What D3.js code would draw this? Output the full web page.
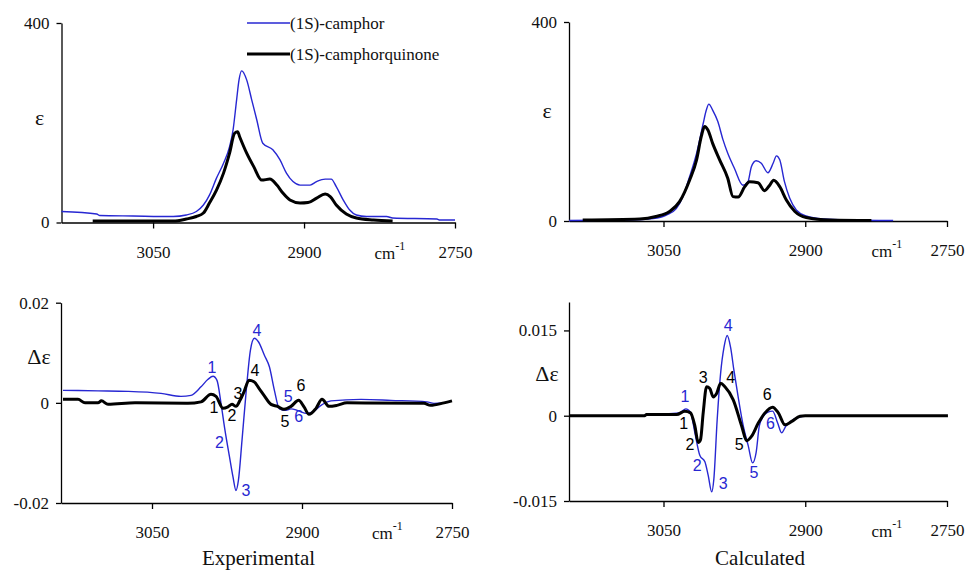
<!DOCTYPE html>
<meta charset="utf-8">
<style>
body { margin: 0; background: #fff; }
svg { display: block; }
</style>
<svg width="966" height="570"></svg>
<script src="https://d3js.org/d3.v7.min.js"></script>
<script>

// wavenumber (cm-1), epsilon / delta epsilon
var expAbsCamphor = [[3141,22],[3106,17],[3103,14],[3070,13],[3030,12],[3017,15],[3007,22],[3000,35],[2994,55],[2987,89],[2980,119],[2974,152],[2970.5,186],[2967,246],[2964.6,286],[2962,304],[2957,286],[2952,246],[2947,206],[2941,159],[2931,146],[2924,126],[2917.5,99],[2911,82],[2904,75],[2894,75],[2887.5,82],[2879,87],[2873,87],[2868,72],[2861,45],[2854.6,25],[2848,15],[2838,12],[2818,12],[2812,9],[2768,7],[2765,5],[2750,5]];
var expAbsQuinone = [[3110,3],[3030,3],[3017,7],[3007,12],[3000,19],[2994,39],[2987,65],[2980,99],[2974,139],[2969,179],[2966,182],[2964,172],[2957,139],[2950,112],[2942,85],[2934,87],[2927,75],[2921,59],[2914,45],[2904,39],[2896,40],[2887.5,49],[2879,57],[2874,52],[2868,35],[2858,17],[2848,9],[2831,5],[2812,3]];

var calcAbsCamphor = [[3150,1],[3086,2],[3061,5],[3047,12],[3036.5,25],[3029.5,49],[3022.4,89],[3015,136],[3008,196],[3004.7,223],[3002,235],[2998,223],[2992.5,200],[2987,163],[2982,136],[2975,106],[2966,72],[2960.6,79],[2957,109],[2952,121],[2946.5,116],[2939.5,97],[2934,116],[2930.5,131],[2927,123],[2922,79],[2916.5,46],[2909.5,22],[2899,10],[2881,4],[2856,2],[2807,1]];
var calcAbsQuinone = [[3135.5,2],[3075,4],[3058,9],[3043.6,19],[3033,39],[3022.4,82],[3015,123],[3010,170],[3006.5,190],[3003,183],[2998,156],[2990.6,123],[2982,86],[2976.5,49],[2971,48],[2964,69],[2959,79],[2950,77],[2943,61],[2937.6,72],[2933.4,82],[2927,69],[2920,42],[2911,19],[2899,7],[2874,2],[2830,1]];

var expCdCamphor = [[3139,0.0025],[3104,0.0024],[3074,0.0023],[3041,0.0019],[3021,0.0013],[3011,0.0015],[3001,0.0032],[2994,0.0047],[2989,0.0053],[2985,0.0045],[2981,-0.0001],[2977,-0.0055],[2972.5,-0.0108],[2969,-0.0148],[2966,-0.0175],[2963.6,-0.0155],[2960,-0.0075],[2956,0.0019],[2951.6,0.0105],[2947.6,0.0129],[2943.6,0.0122],[2937.6,0.0095],[2932.6,0.0072],[2927.6,0.0025],[2922.6,-0.0012],[2916,-0.0015],[2911,-0.0012],[2906,-0.0014],[2901,-0.0018],[2896,-0.0021],[2889,-0.0018],[2881,-0.0005],[2871,0.0004],[2841,0.0007],[2811,0.0005],[2775,0.0002],[2768,-0.0001],[2758,0]];
var expCdQuinone = [[3139,0.0007],[3124,0.0007],[3117,0],[3104,0],[3100.6,0.0004],[3094,-0.0003],[3067,0],[3014,-0.0001],[3001,0.0002],[2991,0.0017],[2986,0.0013],[2979,-0.0011],[2974,-0.0008],[2970,-0.0003],[2966,-0.0007],[2962,0.0005],[2958,0.0022],[2953,0.0045],[2948,0.0042],[2943,0.0029],[2938,0.0015],[2931,-0.0003],[2924.5,-0.0007],[2918,-0.0013],[2911,-0.0007],[2903.4,0.0005],[2898,-0.0008],[2893,-0.0023],[2886,-0.0011],[2880,0.0007],[2873,-0.0007],[2865,-0.0005],[2855,0],[2778,-0.0001],[2771.5,-0.0005],[2758,0],[2750,0.0004]];

var calcCdCamphor = [[3070,0.0002],[3033,0.0005],[3026.4,0.0012],[3021.4,0.0006],[3016.8,-0.003],[3011.5,-0.007],[3006.2,-0.0081],[3002.7,-0.0105],[2999,-0.0134],[2996.7,-0.0111],[2993.2,-0.0007],[2989.6,0.0074],[2986,0.012],[2982.6,0.0141],[2979,0.012],[2975.5,0.008],[2971,0.0033],[2965.6,-0.0018],[2960.3,-0.0053],[2955.7,-0.0083],[2952,-0.0065],[2948.6,-0.0018],[2944.4,-0.0001],[2940,0.0006],[2934.5,0.0008],[2929.2,-0.0013],[2925,-0.003],[2920.4,-0.0018],[2912.7,-0.0007],[2900,0]];
var calcCdQuinone = [[3150,0],[3070,0],[3068,0.0002],[3036,0.0002],[3027.4,0.0008],[3021.4,0.0005],[3016.8,-0.0018],[3013.3,-0.0047],[3010.8,-0.0042],[3008,0.0005],[3004.4,0.0051],[3001,0.0048],[2997.4,0.0033],[2993.8,0.0039],[2989.6,0.0057],[2985,0.0051],[2976.2,0.0028],[2967.3,-0.0018],[2962,-0.0044],[2956.7,-0.0036],[2949.7,-0.0013],[2942.6,0.0005],[2934.5,0.0015],[2928.5,0.0005],[2921.4,-0.0016],[2914.3,-0.001],[2905.5,-0.0001],[2900,0],[2749,0]];

// band numbers: [wavenumber, value, label]
var expLabelsCamphor = [[2990,0.0071,"1"],[2982.5,-0.008,"2"],[2956,-0.0176,"3"],[2945,0.0145,"4"],[2913.7,0.0012,"5"],[2903.3,-0.0028,"6"]];
var expLabelsQuinone = [[2988,-0.0009,"1"],[2970,-0.0025,"2"],[2964,0.0019,"3"],[2947,0.0064,"4"],[2917,-0.0037,"5"],[2901,0.0035,"6"]];
var calcLabelsCamphor = [[3027.4,0.0033,"1"],[3014.4,-0.0087,"2"],[2986.9,-0.0119,"3"],[2981.6,0.0159,"4"],[2954.4,-0.010,"5"],[2936.7,-0.0014,"6"]];
var calcLabelsQuinone = [[3028.5,-0.0014,"1"],[3022,-0.005,"2"],[3008,0.0068,"3"],[2979,0.0067,"4"],[2970,-0.005,"5"],[2940.3,0.0038,"6"]];

var xTicks = [3050, 2900, 2750];
var legendNames = ["(1S)-camphor", "(1S)-camphorquinone"];
var titles = ["Experimental", "Calculated"];

var blue = "#2727d2";
var serif = "'Liberation Serif', 'Times New Roman', serif";
var sans = "'Liberation Sans', Arial, sans-serif";

var svg = d3.select("svg");
svg.append("rect").attr("width", 966).attr("height", 570).attr("fill", "#fff");

var panels = [
  {xr: [61.5, 455], xd: [3141, 2750], yr: [222.5, 23], yd: [0, 400], yt: [0, 400],
   ylab: "ε", ylabV: 210, series: [expAbsCamphor, expAbsQuinone], legend: true},
  {xr: [569, 947], xd: [3150, 2750], yr: [221, 22], yd: [0, 400], yt: [0, 400],
   ylab: "ε", ylabV: 222, series: [calcAbsCamphor, calcAbsQuinone]},
  {xr: [61, 452], xd: [3141, 2750], yr: [503, 302.7], yd: [-0.02, 0.02], yt: [-0.02, 0, 0.02],
   ylab: "Δε", ylabV: 0.0093, series: [expCdCamphor, expCdQuinone],
   labels: [expLabelsCamphor, expLabelsQuinone], title: titles[0]},
  {xr: [569, 947], xd: [3150, 2750], yr: [501, 302], yd: [-0.015, 0.02], yt: [-0.015, 0, 0.015],
   ylab: "Δε", ylabV: 0.0075, series: [calcCdCamphor, calcCdQuinone],
   labels: [calcLabelsCamphor, calcLabelsQuinone], title: titles[1]}
];

panels.forEach(function(p) {
  var x = d3.scaleLinear().domain(p.xd).range(p.xr);
  var y = d3.scaleLinear().domain(p.yd).range(p.yr);
  var g = svg.append("g");

  // y axis
  var ya = g.append("g")
      .attr("transform", "translate(" + p.xr[0] + ",0)")
      .call(d3.axisLeft(y).tickValues(p.yt).tickSize(5).tickSizeOuter(0).tickPadding(7)
        .tickFormat(function(d) { return d === 0 ? "0" : String(d); }));
  // x axis
  var xa = g.append("g")
      .attr("transform", "translate(0," + p.yr[0] + ")")
      .call(d3.axisBottom(x).tickValues(xTicks).tickSize(6).tickSizeOuter(0).tickPadding(17)
        .tickFormat(d3.format("d")));

  [ya, xa].forEach(function(a) {
    a.selectAll("path, line").attr("stroke", "#000").attr("stroke-width", 1.3);
    a.selectAll("text")
        .style("font-family", serif).style("font-size", "17px")
        .attr("fill", "#111");
  });

  // cm-1 unit
  var u = g.append("text")
      .attr("x", x(2830))
      .attr("y", p.yr[0] + 36)
      .style("font-family", serif).style("font-size", "17px")
      .attr("fill", "#111");
  u.append("tspan").text("cm");
  u.append("tspan").attr("dy", -9).style("font-size", "12px").text("-1");

  // y label
  g.append("text")
      .attr("x", p.xr[0] - 22)
      .attr("y", y(p.ylabV))
      .attr("text-anchor", "middle")
      .attr("dominant-baseline", "central")
      .style("font-family", serif).style("font-size", "22px")
      .attr("fill", "#111")
      .text(p.ylab);

  var line = d3.line()
      .curve(d3.curveMonotoneX)
      .x(function(d) { return x(d[0]); })
      .y(function(d) { return y(d[1]); });

  g.append("path").datum(p.series[0])
      .attr("d", line).attr("fill", "none")
      .attr("stroke", blue).attr("stroke-width", 1.4).attr("stroke-linejoin", "round");
  g.append("path").datum(p.series[1])
      .attr("d", line).attr("fill", "none")
      .attr("stroke", "#000").attr("stroke-width", 3).attr("stroke-linejoin", "round");

  if (p.labels) {
    [blue, "#000"].forEach(function(c, i) {
      g.selectAll(null).data(p.labels[i]).enter().append("text")
          .attr("x", function(d) { return x(d[0]); })
          .attr("y", function(d) { return y(d[1]); })
          .attr("text-anchor", "middle")
          .attr("dominant-baseline", "central")
          .style("font-family", sans).style("font-size", "16px")
          .attr("fill", c)
          .text(function(d) { return d[2]; });
    });
  }

  if (p.title) {
    g.append("text")
        .attr("x", (p.xr[0] + p.xr[1]) / 2 + 2)
        .attr("y", 565)
        .attr("text-anchor", "middle")
        .style("font-family", serif).style("font-size", "21px")
        .attr("fill", "#111")
        .text(p.title);
  }

  if (p.legend) {
    var lg = g.append("g");
    [blue, "#000"].forEach(function(c, i) {
      var ly = 23 + i * 31;
      lg.append("line")
          .attr("x1", 247).attr("x2", 290).attr("y1", ly).attr("y2", ly)
          .attr("stroke", c).attr("stroke-width", i ? 3 : 1.4);
      lg.append("text")
          .attr("x", 290).attr("y", ly)
          .attr("dominant-baseline", "central")
          .style("font-family", serif).style("font-size", "17px")
          .attr("fill", "#111")
          .text(legendNames[i]);
    });
  }
});

</script>
